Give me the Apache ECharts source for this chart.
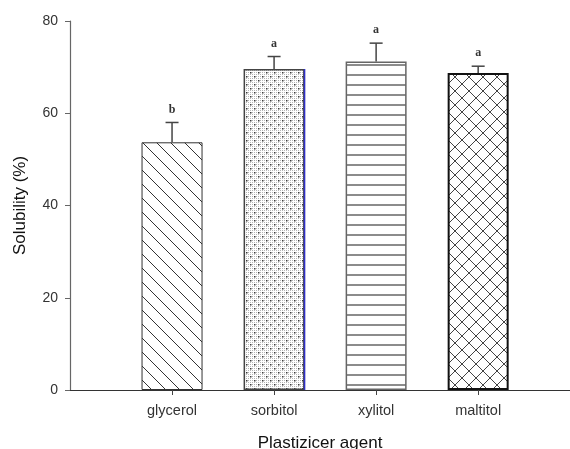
<!DOCTYPE html>
<html>
<head>
<meta charset="utf-8">
<script src="https://cdn.jsdelivr.net/npm/echarts@6/dist/echarts.min.js"></script>
<style>
  html, body { margin: 0; padding: 0; background: #fff; }
  #chart { width: 570px; height: 449px; }
</style>
</head>
<body>
<div id="chart"></div>
<script>
// Solubility of films by plasticizer type
const categories = ['glycerol', 'sorbitol', 'xylitol', 'maltitol'];
const solubility = [53.7, 69.6, 71.2, 68.7];
const errorUpper = [4.3, 2.7, 4.0, 1.5];
const letters = ['b', 'a', 'a', 'a'];
const yTicks = [0, 20, 40, 60, 80];

// Fill patterns for each bar
function makePattern(w, h, draw) {
  const c = document.createElement('canvas');
  c.width = w; c.height = h;
  const g = c.getContext('2d');
  g.fillStyle = '#ffffff';
  g.fillRect(0, 0, w, h);
  draw(g, w, h);
  return { image: c, repeat: 'repeat' };
}
const diagPattern = makePattern(14, 14, (g, s) => {
  g.strokeStyle = '#333'; g.lineWidth = 1;
  for (const x0 of [-s, 0, s]) {
    g.beginPath(); g.moveTo(x0, 0); g.lineTo(x0 + s, s); g.stroke();
  }
});
const dotPattern = makePattern(8, 8, (g) => {
  g.fillStyle = '#b5b5b5';
  for (let x = 0; x < 8; x += 2) for (let y = 0; y < 8; y += 2) g.fillRect(x, y, 1, 1);
  g.fillStyle = '#3a3a3a';
  g.fillRect(2, 0, 1.5, 1.5);
  g.fillRect(6, 4, 1.5, 1.5);
});
const hLinePattern = makePattern(10, 10.3, (g, w) => {
  g.strokeStyle = '#666'; g.lineWidth = 1.5;
  g.beginPath(); g.moveTo(0, 5); g.lineTo(w, 5); g.stroke();
});
const crossPattern = makePattern(14, 14, (g, s) => {
  g.strokeStyle = '#444'; g.lineWidth = 1;
  for (const x0 of [-s, 0, s]) {
    g.beginPath(); g.moveTo(x0, 0); g.lineTo(x0 + s, s); g.stroke();
    g.beginPath(); g.moveTo(x0 + s, 0); g.lineTo(x0, s); g.stroke();
  }
});
const fills = [diagPattern, dotPattern, hLinePattern, crossPattern];
const borders = [
  { borderColor: '#333', borderWidth: 1 },
  { borderColor: '#444', borderWidth: 1.5 },
  { borderColor: '#666', borderWidth: 1.5 },
  { borderColor: '#111', borderWidth: 2 }
];
const BAR_W = 61;

const positions = categories.map((_, i) => i + 1);
const barData = solubility.map((v, i) => ({
  value: [positions[i], v],
  itemStyle: Object.assign({ color: fills[i] }, borders[i])
}));
const errData = solubility.map((v, i) => [positions[i], v, v + errorUpper[i], i]);

const chart = echarts.init(document.getElementById('chart'), null, { renderer: 'canvas' });
chart.setOption({
  backgroundColor: '#ffffff',
  animation: false,
  grid: { left: 70, top: 21, right: 0, bottom: 59, containLabel: false, outerBoundsMode: 'none' },
  xAxis: {
    type: 'value',
    min: 0, max: 4.9, interval: 1,
    name: 'Plastizicer agent',
    nameLocation: 'middle',
    nameGap: 45,
    nameTextStyle: { fontFamily: 'Liberation Sans', fontSize: 17, color: '#111' },
    axisLine: { show: true, onZero: false, lineStyle: { color: '#333', width: 1 } },
    axisTick: { show: true, length: 5, lineStyle: { color: '#444' }, customValues: positions },
    axisLabel: {
      customValues: positions,
      formatter: (v) => categories[Math.round(v) - 1] || '',
      fontFamily: 'Liberation Sans', fontSize: 14.5, color: '#333', margin: 13
    },
    splitLine: { show: false }
  },
  yAxis: {
    type: 'value',
    min: 0, max: 80, interval: 20,
    name: 'Solubility (%)',
    nameLocation: 'middle',
    nameGap: 41,
    nameTextStyle: { fontFamily: 'Liberation Sans', fontSize: 17, color: '#111' },
    axisLine: { show: true, lineStyle: { color: '#666', width: 1.2 } },
    axisTick: { show: true, length: 5, lineStyle: { color: '#666' } },
    axisLabel: {
      formatter: (v) => (yTicks.includes(v) ? String(v) : ''),
      fontFamily: 'Liberation Sans', fontSize: 14, color: '#333', margin: 12
    },
    splitLine: { show: false }
  },
  series: [
    {
      type: 'bar',
      data: barData,
      barWidth: BAR_W,
      z: 2
    },
    {
      type: 'custom',
      data: errData,
      z: 3,
      renderItem: (params, api) => {
        const x = api.value(0);
        const base = api.coord([x, api.value(1)]);
        const top = api.coord([x, api.value(2)]);
        const zero = api.coord([x, 0]);
        const idx = api.value(3);
        const half = 6.5;
        const children = [
          { type: 'line', shape: { x1: base[0], y1: base[1], x2: top[0], y2: top[1] },
            style: { stroke: '#444', lineWidth: 1.5 } },
          { type: 'line', shape: { x1: top[0] - half, y1: top[1], x2: top[0] + half, y2: top[1] },
            style: { stroke: '#444', lineWidth: 1.5 } },
          { type: 'text', x: top[0], y: top[1] - 13,
            style: { text: letters[idx], fill: '#333', font: 'bold 12px "Liberation Serif"',
                     align: 'center', verticalAlign: 'middle' } }
        ];
        if (categories[idx] === 'sorbitol') {
          // blue right edge of the sorbitol bar
          const xr = base[0] + BAR_W / 2;
          children.push({ type: 'line', shape: { x1: xr, y1: base[1], x2: xr, y2: zero[1] },
            style: { stroke: '#3030c8', lineWidth: 1.5 } });
        }
        return { type: 'group', children };
      }
    }
  ]
});
</script>
</body>
</html>
